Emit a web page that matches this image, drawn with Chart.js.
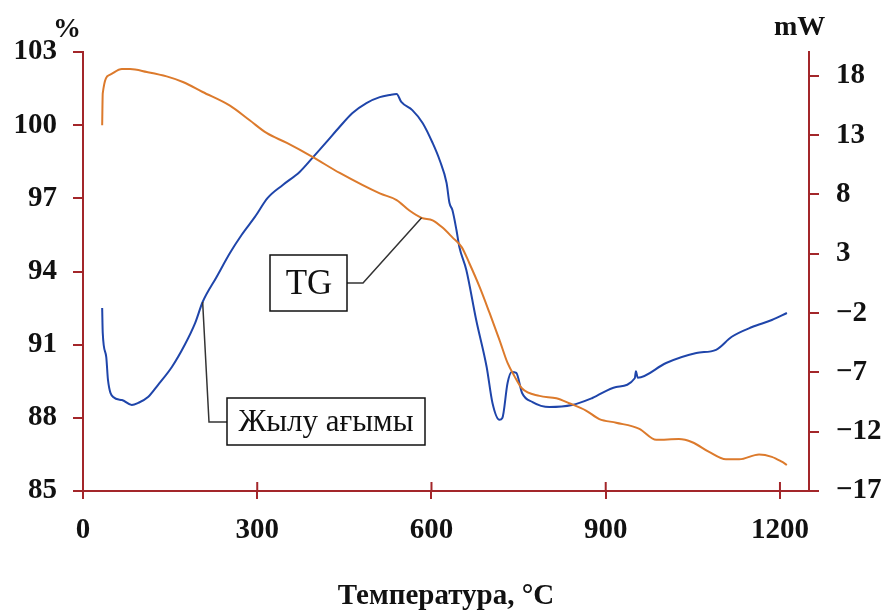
<!DOCTYPE html>
<html>
<head>
<meta charset="utf-8">
<script src="https://cdn.jsdelivr.net/npm/chart.js@4"></script>
<style>
  html, body { margin: 0; padding: 0; background: #fff; }
  #wrap { width: 881px; height: 611px; position: relative; }
</style>
</head>
<body>
<div id="wrap"><canvas id="dtaChart"></canvas></div>
<script>
// TG curve (mass, %), left axis
const tgTemp = [33, 34, 46, 67, 81, 110, 144, 172, 206, 253, 287, 316, 351, 395, 442, 511, 540, 562, 583, 602, 619, 636, 652, 665, 683, 700, 717, 731, 743, 756, 786, 815, 837, 866, 889, 918, 958, 987, 1026, 1049, 1078, 1107, 1130, 1164, 1186, 1203, 1212];
const tgMass = [100.0, 101.3, 102.06, 102.3, 102.3, 102.18, 102.0, 101.77, 101.36, 100.8, 100.2, 99.68, 99.27, 98.7, 98.04, 97.2, 96.93, 96.5, 96.2, 96.1, 95.8, 95.4, 95.0, 94.35, 93.36, 92.3, 91.2, 90.25, 89.7, 89.2, 88.9, 88.8, 88.6, 88.3, 87.95, 87.8, 87.55, 87.1, 87.13, 87.0, 86.6, 86.3, 86.3, 86.5, 86.4, 86.2, 86.07];

// heat flow curve (mW), right axis
const hfTemp = [33, 34, 40, 43, 52, 67, 84, 95, 112, 129, 153, 175, 193, 206, 230, 253, 273, 296, 318, 344, 373, 395, 419, 442, 464, 488, 511, 528, 540, 548, 567, 585, 602, 614, 626, 631, 636, 643, 648, 660, 677, 695, 705, 717, 722, 731, 738, 746, 756, 774, 803, 842, 877, 918, 950, 952, 955, 1004, 1056, 1090, 1117, 1152, 1186, 1212];
const hfFlow = [-1.58, -3.68, -5.7, -7.64, -9.08, -9.33, -9.75, -9.58, -9.08, -8.07, -6.55, -4.7, -2.85, -1.07, 1.04, 3.06, 4.58, 6.1, 7.7, 8.79, 9.89, 11.07, 12.4, 13.7, 14.86, 15.7, 16.2, 16.38, 16.46, 15.79, 15.1, 14.0, 12.33, 10.9, 8.96, 7.27, 6.68, 5.0, 3.57, 1.63, -2.59, -6.55, -9.58, -11.0, -10.85, -7.9, -6.97, -7.05, -8.74, -9.5, -9.92, -9.75, -9.16, -8.23, -7.5, -6.9, -7.45, -6.21, -5.37, -5.1, -4.0, -3.18, -2.59, -2.0];

const xTicks = [0, 300, 600, 900, 1200];
const leftTicks = [85, 88, 91, 94, 97, 100, 103];
const rightTicks = [-17, -12, -7, -2, 3, 8, 13, 18];

const axisColor = '#a3262a';
const serif = '"Liberation Serif", "Times New Roman", serif';

function pts(xs, ys) {
  return xs.map((x, i) => ({ x: x, y: ys[i] }));
}
function fixTicks(list) {
  return axis => { axis.ticks = list.map(v => ({ value: v })); };
}
function minusFmt(v) {
  return v < 0 ? '\u2212' + Math.abs(v) : String(v);
}

const annotations = {
  id: 'annotations',
  afterDraw(chart) {
    const ctx = chart.ctx;
    const xs = chart.scales.x, yl = chart.scales.yL, yr = chart.scales.yR;
    ctx.save();

    // upward half of the x tick marks
    ctx.strokeStyle = axisColor;
    ctx.lineWidth = 2;
    xTicks.forEach(v => {
      const px = xs.getPixelForValue(v);
      ctx.beginPath();
      ctx.moveTo(px, yl.bottom);
      ctx.lineTo(px, yl.bottom - 9);
      ctx.stroke();
    });

    // unit labels
    ctx.fillStyle = '#111';
    ctx.font = 'bold 28px ' + serif;
    ctx.textBaseline = 'alphabetic';
    ctx.textAlign = 'right';
    ctx.fillText('%', 81, 37);
    ctx.textAlign = 'left';
    ctx.fillText('mW', 774, 35);

    // TG callout
    const tgX = xs.getPixelForValue(583), tgY = yl.getPixelForValue(96.2);
    ctx.strokeStyle = '#333';
    ctx.lineWidth = 1.5;
    ctx.beginPath();
    ctx.moveTo(347, 283);
    ctx.lineTo(363, 283);
    ctx.lineTo(tgX, tgY);
    ctx.stroke();
    ctx.fillStyle = '#fff';
    ctx.fillRect(270, 255, 77, 56);
    ctx.strokeStyle = '#111';
    ctx.strokeRect(270, 255, 77, 56);
    ctx.fillStyle = '#111';
    ctx.font = '35px ' + serif;
    ctx.textAlign = 'center';
    ctx.textBaseline = 'middle';
    ctx.fillText('TG', 309, 285);

    // heat flow callout
    const hfX = xs.getPixelForValue(206), hfY = yr.getPixelForValue(-1.07);
    ctx.strokeStyle = '#333';
    ctx.beginPath();
    ctx.moveTo(227, 422);
    ctx.lineTo(209, 422);
    ctx.lineTo(hfX, hfY);
    ctx.stroke();
    ctx.fillStyle = '#fff';
    ctx.fillRect(227, 398, 198, 47);
    ctx.strokeStyle = '#111';
    ctx.strokeRect(227, 398, 198, 47);
    ctx.fillStyle = '#111';
    ctx.font = '31px ' + serif;
    ctx.fillText('Жылу ағымы', 326, 423);
    ctx.restore();
  }
};

const tickFont = { family: serif, size: 29, weight: 'bold' };

new Chart(document.getElementById('dtaChart'), {
  type: 'line',
  data: {
    datasets: [
      {
        label: 'TG',
        data: pts(tgTemp, tgMass),
        yAxisID: 'yL',
        borderColor: '#dc7a2c',
        borderWidth: 2,
        pointRadius: 0,
        cubicInterpolationMode: 'monotone'
      },
      {
        label: 'Жылу ағымы',
        data: pts(hfTemp, hfFlow),
        yAxisID: 'yR',
        borderColor: '#1f45aa',
        borderWidth: 2,
        pointRadius: 0,
        cubicInterpolationMode: 'monotone'
      }
    ]
  },
  options: {
    responsive: true,
    maintainAspectRatio: false,
    animation: false,
    layout: { padding: { top: 52, left: 0, right: 0, bottom: 0 } },
    plugins: {
      legend: { display: false },
      tooltip: { enabled: false }
    },
    scales: {
      x: {
        type: 'linear',
        min: 0,
        max: 1250,
        afterBuildTicks: fixTicks(xTicks),
        afterFit: s => { s.height = 120; },
        border: { display: true, color: axisColor, width: 2 },
        grid: { drawOnChartArea: false, color: axisColor, lineWidth: 2, tickLength: 8 },
        ticks: { color: '#111', font: tickFont, padding: 14, maxRotation: 0, callback: v => String(v) },
        title: {
          display: true,
          text: 'Температура, °С',
          color: '#111',
          font: { family: serif, size: 29, weight: 'bold', lineHeight: 1.0 },
          padding: { top: 0, bottom: 0 }
        }
      },
      yL: {
        position: 'left',
        min: 85,
        max: 103,
        afterBuildTicks: fixTicks(leftTicks),
        afterFit: s => { s.width = 83; },
        border: { display: true, color: axisColor, width: 2 },
        grid: { drawOnChartArea: false, color: axisColor, lineWidth: 2, tickLength: 10 },
        ticks: { color: '#111', font: tickFont, padding: 16 }
      },
      yR: {
        position: 'right',
        min: -17,
        max: 20,
        afterBuildTicks: fixTicks(rightTicks),
        afterFit: s => { s.width = 72; },
        border: { display: true, color: axisColor, width: 2 },
        grid: { drawOnChartArea: false, color: axisColor, lineWidth: 2, tickLength: 10 },
        ticks: { color: '#111', font: tickFont, padding: 17, callback: minusFmt }
      }
    }
  },
  plugins: [annotations]
});
</script>
</body>
</html>
